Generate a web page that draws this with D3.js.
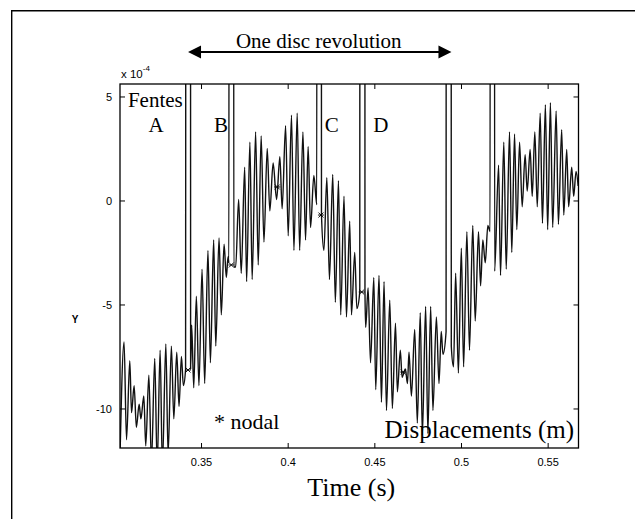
<!DOCTYPE html>
<html>
<head>
<meta charset="utf-8">
<script src="https://d3js.org/d3.v7.min.js"></script>
<style>
  body { margin: 0; background: #fff; }
  text { fill: #000; }
</style>
</head>
<body>
<div id="my_dataviz"></div>
<script>

// time of each turning point of the signal (s)
var times = [
  0.3032, 0.3056, 0.3070, 0.3089, 0.3099, 0.3114, 0.3127, 0.3143, 0.3153, 0.3170,
  0.3181, 0.3199, 0.3214, 0.3233, 0.3247, 0.3264, 0.3277, 0.3297, 0.3310, 0.3329,
  0.3343, 0.3360, 0.3373, 0.3387, 0.3398, 0.3411,
  0.3413, 0.3439, 0.3440,
  0.3446, 0.3458, 0.3473, 0.3488, 0.3506, 0.3521, 0.3540, 0.3554, 0.3573, 0.3585,
  0.3604, 0.3617, 0.3633, 0.3646, 0.3656, 0.3661,
  0.3662, 0.3688, 0.3689,
  0.3700, 0.3717, 0.3732, 0.3752, 0.3763, 0.3782, 0.3795, 0.3815, 0.3830, 0.3847,
  0.3863, 0.3882, 0.3897, 0.3916, 0.3936, 0.3955, 0.3968, 0.3988, 0.4003, 0.4022,
  0.4036, 0.4055, 0.4069, 0.4088, 0.4103, 0.4118, 0.4132, 0.4151, 0.4168,
  0.4169, 0.4194, 0.4195,
  0.4209, 0.4226, 0.4241, 0.4260, 0.4275, 0.4293, 0.4306, 0.4325, 0.4339, 0.4358,
  0.4368, 0.4387, 0.4399, 0.4416,
  0.4417, 0.4445, 0.4446,
  0.4450, 0.4464, 0.4478, 0.4497, 0.4508, 0.4527, 0.4541, 0.4556, 0.4570, 0.4589,
  0.4604, 0.4622, 0.4633, 0.4650, 0.4660, 0.4679, 0.4691, 0.4700, 0.4714, 0.4733,
  0.4748, 0.4765, 0.4777, 0.4796, 0.4809, 0.4825, 0.4838, 0.4858, 0.4873, 0.4886,
  0.4896, 0.4914,
  0.4915, 0.4943, 0.4944,
  0.4957, 0.4969, 0.4985, 0.5002, 0.5015, 0.5034, 0.5049, 0.5068, 0.5082, 0.5101,
  0.5113, 0.5126, 0.5140, 0.5155, 0.5168,
  0.5169, 0.5193, 0.5194,
  0.5217, 0.5228, 0.5247, 0.5261, 0.5280, 0.5293, 0.5309, 0.5322, 0.5338, 0.5353,
  0.5370, 0.5382, 0.5399, 0.5411, 0.5426, 0.5440, 0.5457, 0.5470, 0.5487, 0.5500,
  0.5516, 0.5529, 0.5549, 0.5562, 0.5581, 0.5593, 0.5610, 0.5621, 0.5639, 0.5650,
  0.5664, 0.5676
];

// displacement at those points (x 10^-4 m), slots go off the top
var values = [
  -12.5, -6.8, -11.5, -7.7, -10.2, -8.9, -10.9, -9.8, -10.5, -9.4,
  -11.8, -8.4, -12.6, -7.6, -12.8, -7.2, -12.8, -6.9, -12.2, -7.0,
  -10.5, -7.3, -9.9, -7.5, -8.9, -8.1,
  30, 30, -8.1,
  -6.0, -9.0, -4.6, -8.9, -3.3, -8.8, -2.4, -7.8, -1.9, -7.0,
  -1.8, -5.5, -2.1, -3.7, -2.7, -3.0,
  30, 30, -3.2,
  -3.2, 0.05, -3.5, 1.6, -3.9, 2.8, -3.8, 3.3, -3.1, 3.1,
  -2.0, 2.5, -0.5, 1.8, 0.05, 2.1, -0.4, 3.6, -1.7, 4.1,
  -2.4, 4.2, -2.4, 3.3, -1.9, 2.6, -1.3, 1.2, -0.2,
  30, 30, -0.7,
  -2.4, 1.1, -3.8, 1.25, -4.9, 0.95, -5.5, 0.2, -5.6, -1.0,
  -5.5, -2.5, -5.2, -4.4,
  30, 30, -4.4,
  -6.1, -4.2, -7.8, -3.7, -9.1, -3.6, -9.7, -3.9, -10.1, -4.8,
  -10.0, -5.9, -9.2, -7.2, -8.5, -8.1, -8.8, -7.3, -9.4, -6.2,
  -10.7, -5.4, -11.3, -5.1, -11.2, -5.1, -10.1, -5.6, -8.8, -6.3,
  -7.4, -6.3,
  30, 30, -7.0,
  -8.0, -3.5, -8.3, -2.3, -8.0, -1.5, -7.2, -1.2, -5.8, -1.5,
  -4.1, -1.9, -3.0, -1.2, -1.5,
  30, 30, -3.4,
  1.7, -3.6, 2.8, -3.3, 3.3, -2.5, 3.2, -1.4, 2.8, -0.3,
  2.2, 0.45, 2.45, 0.2, 3.3, -0.3, 4.2, -1.1, 4.6, -1.4,
  4.7, -1.3, 4.3, -1.15, 3.4, -0.7, 2.45, -0.3, 1.6, 0.2,
  1.4, 0.7
];

// nodal points marked with a star
var nodalTimes = [0.3425, 0.3675, 0.3940, 0.4192, 0.4427, 0.4667];
var nodalValues = [-8.15, -3.1, 0.65, -0.7, -4.4, -8.25];

// slot labels
var slotNames = ["A", "B", "C", "D"];
var slotTimes = [0.3240, 0.3615, 0.4255, 0.4538];

// one disc revolution, from slot to slot
var revolution = [0.3425, 0.4945];

var xTicks = [0.35, 0.4, 0.45, 0.5, 0.55];
var xTickLabels = ["0.35", "0.4", "0.45", "0.5", "0.55"];
var yTicks = [5, 0, -5, -10];
var yTickLabels = ["5", "0", "-5", "-10"];

var W = 635, H = 519;
// plot box (window.top is read only, so no bare "top")
var box = {left: 120, right: 578.5, top: 84, bottom: 448};

var svg = d3.select("#my_dataviz")
  .append("svg")
    .attr("width", W)
    .attr("height", H)
    .style("display", "block");

svg.append("rect").attr("width", W).attr("height", H).attr("fill", "#fff");

// page frame (top and left edges only)
svg.append("path")
  .attr("d", "M11.7," + H + "V10.7H" + W)
  .attr("fill", "none")
  .attr("stroke", "#000")
  .attr("stroke-width", 1.4);

var x = d3.scaleLinear().domain([0.30325, 0.5678]).range([box.left, box.right]);
var y = d3.scaleLinear().domain([-11.9, 5.6]).range([box.bottom, box.top]);

svg.append("clipPath").attr("id", "clip")
  .append("rect")
    .attr("x", box.left).attr("y", box.top)
    .attr("width", box.right - box.left).attr("height", box.bottom - box.top);

// signal
var pts = times.map(function(t, i) { return [t, values[i]]; });
var line = d3.line()
  .x(function(d) { return x(d[0]); })
  .y(function(d) { return y(d[1]); })
  .curve(d3.curveMonotoneX);

svg.append("path")
  .datum(pts)
  .attr("clip-path", "url(#clip)")
  .attr("d", line)
  .attr("fill", "none")
  .attr("stroke", "#111")
  .attr("stroke-width", 1.4)
  .attr("stroke-linejoin", "round");

// nodal stars
var star = svg.append("g").attr("stroke", "#000").attr("stroke-width", 0.9).attr("fill", "none");
nodalTimes.forEach(function(t, i) {
  var g = star.append("g").attr("transform", "translate(" + x(t) + "," + y(nodalValues[i]) + ")");
  g.append("path").attr("d", d3.symbol(d3.symbolTimes, 18)());
  g.append("path").attr("d", "M-3,0H3");
});

// axes, matlab style: ticks inside on every side
var font = "'Liberation Sans', Arial, sans-serif";
var tick = 5;

svg.append("g")
  .attr("transform", "translate(0," + box.bottom + ")")
  .call(d3.axisBottom(x).tickValues(xTicks).tickSize(-tick).tickPadding(10)
    .tickFormat(function(d, i) { return xTickLabels[i]; }))
  .call(function(g) { g.select(".domain").remove(); });

svg.append("g")
  .attr("transform", "translate(0," + box.top + ")")
  .call(d3.axisTop(x).tickValues(xTicks).tickSize(-tick).tickFormat(""))
  .call(function(g) { g.select(".domain").remove(); });

svg.append("g")
  .attr("transform", "translate(" + box.left + ",0)")
  .call(d3.axisLeft(y).tickValues(yTicks).tickSize(-tick).tickPadding(8)
    .tickFormat(function(d, i) { return yTickLabels[i]; }))
  .call(function(g) { g.select(".domain").remove(); });

svg.append("g")
  .attr("transform", "translate(" + box.right + ",0)")
  .call(d3.axisRight(y).tickValues(yTicks).tickSize(-tick).tickFormat(""))
  .call(function(g) { g.select(".domain").remove(); });

svg.selectAll(".tick line").attr("stroke", "#000").attr("stroke-width", 1);
svg.selectAll(".tick text")
  .attr("font-family", font)
  .attr("font-size", 11)
  .attr("fill", "#000");

svg.append("rect")
  .attr("x", box.left).attr("y", box.top)
  .attr("width", box.right - box.left).attr("height", box.bottom - box.top)
  .attr("fill", "none")
  .attr("stroke", "#000")
  .attr("stroke-width", 1.3);

// exponent
var expo = svg.append("text")
  .attr("x", box.left + 1).attr("y", 78)
  .attr("fill", "#000")
  .attr("font-family", font).attr("font-size", 11.5);
expo.append("tspan").text("x 10");
expo.append("tspan").attr("dy", -7).attr("font-size", 8).text("-4");

svg.append("text")
  .attr("x", 75).attr("y", 323)
  .attr("text-anchor", "middle")
  .attr("font-family", font).attr("font-size", 10).attr("font-weight", "bold")
  .text("Y");

// annotations
var serif = "'Liberation Serif', 'Times New Roman', serif";

svg.append("text")
  .attr("x", x(0.3078)).attr("y", y(4.5))
  .attr("font-family", serif).attr("font-size", 21)
  .text("Fentes");

svg.selectAll(".slot")
  .data(slotNames)
  .enter()
  .append("text")
    .attr("class", "slot")
    .attr("x", function(d, i) { return x(slotTimes[i]); })
    .attr("y", y(3.3))
    .attr("text-anchor", "middle")
    .attr("font-family", serif).attr("font-size", 21)
    .text(function(d) { return d; });

svg.append("text")
  .attr("x", x(0.3575)).attr("y", y(-11.0))
  .attr("font-family", serif).attr("font-size", 22)
  .text("* nodal");

svg.append("text")
  .attr("x", x(0.5652)).attr("y", y(-11.4))
  .attr("text-anchor", "end")
  .attr("font-family", serif).attr("font-size", 25)
  .text("Displacements (m)");

svg.append("text")
  .attr("x", (box.left + box.right) / 2 + 2).attr("y", 496)
  .attr("text-anchor", "middle")
  .attr("font-family", serif).attr("font-size", 26)
  .text("Time (s)");

// revolution arrow
var ay = 52, x0 = x(revolution[0]), x1 = x(revolution[1]);
svg.append("line")
  .attr("x1", x0 + 8).attr("x2", x1 - 8)
  .attr("y1", ay).attr("y2", ay)
  .attr("stroke", "#000").attr("stroke-width", 2.2);
svg.append("path")
  .attr("d", "M" + x0 + "," + ay + "l13,-6.5v13z M" + x1 + "," + ay + "l-13,-6.5v13z")
  .attr("fill", "#000");

svg.append("text")
  .attr("x", (x0 + x1) / 2 - 1).attr("y", 48)
  .attr("text-anchor", "middle")
  .attr("font-family", serif).attr("font-size", 21)
  .text("One disc revolution");

</script>
</body>
</html>
